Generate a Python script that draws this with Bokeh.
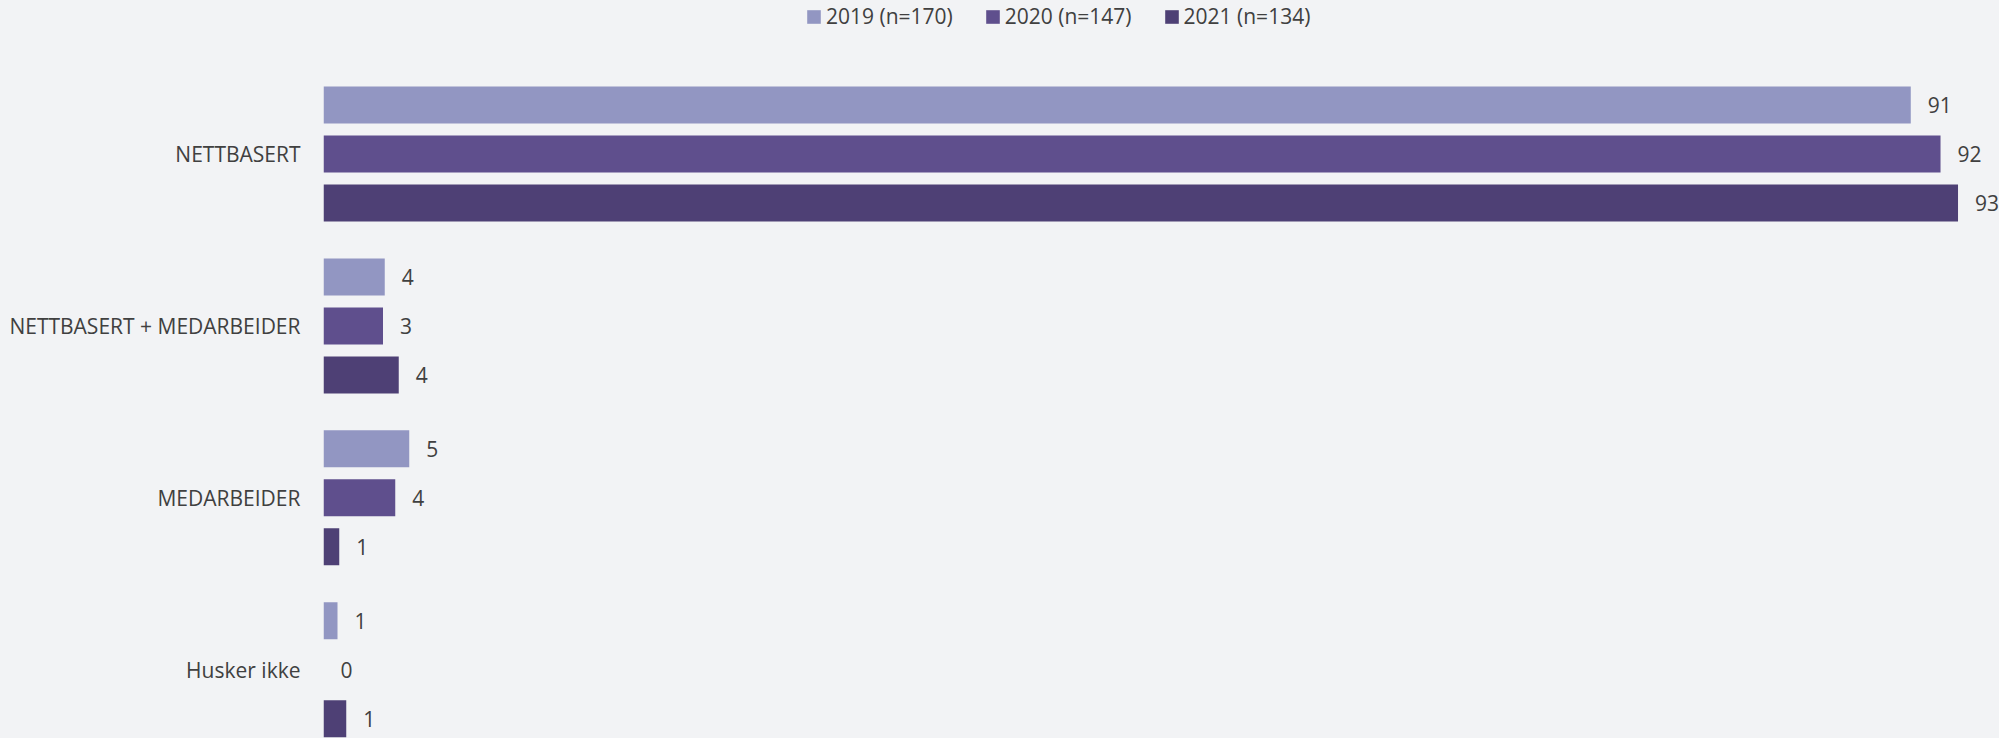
from bokeh.plotting import figure
from bokeh.models import Range1d, FixedTicker, Legend, LegendItem, ColumnDataSource
from bokeh.core.properties import value
from bokeh.embed import file_html
from bokeh.resources import INLINE

categories = ["NETTBASERT", "NETTBASERT + MEDARBEIDER", "MEDARBEIDER", "Husker ikke"]
series_names = ["2019 (n=170)", "2020 (n=147)", "2021 (n=134)"]
values_2019 = [90.7, 3.5, 4.9, 0.8]
values_2020 = [92.4, 3.4, 4.1, 0.0]
values_2021 = [93.4, 4.3, 0.9, 1.3]
colors = ["#9296C2", "#5F4F8D", "#4E4075"]

BG = "#F2F3F5"
TXT = "#404040"
FONT = "Open Sans"
FS = "21px"

W, H = 1999, 738
p = figure(width=W, height=H, output_backend="svg", toolbar_location=None,
           x_axis_location=None, y_axis_location="left",
           x_range=Range1d(0, 95.77), y_range=Range1d(3.400, -0.893),
           min_border_left=323, min_border_right=0, min_border_top=0, min_border_bottom=0)
p.background_fill_color = BG
p.border_fill_color = BG
p.outline_line_color = None
p.xgrid.visible = False
p.ygrid.visible = False

ax = p.yaxis[0]
ax.ticker = FixedTicker(ticks=list(range(len(categories))))
ax.major_label_overrides = {i: c for i, c in enumerate(categories)}
ax.axis_line_color = None
ax.major_tick_line_color = None
ax.minor_tick_line_color = None
ax.major_tick_out = 0
ax.major_tick_in = 0
ax.major_label_standoff = 23
ax.major_label_text_font = FONT
ax.major_label_text_font_size = FS
ax.major_label_text_color = TXT

all_vals = [values_2019, values_2020, values_2021]
offsets = [-0.285, 0.0, 0.285]
items = []
for vals, off, col, name in zip(all_vals, offsets, colors, series_names):
    ys = [i + off for i in range(len(categories))]
    src = ColumnDataSource(dict(y=ys, v=vals, lab=[str(int(round(v))) for v in vals]))
    r = p.hbar(y="y", left=0, right="v", height=0.2152, source=src,
               fill_color=col, line_color=None)
    p.text(x="v", y="y", text="lab", source=src, x_offset=17,
           text_baseline="middle", text_align="left",
           text_font=value(FONT), text_font_size=FS, text_color=TXT)
    items.append(LegendItem(label=name, renderers=[r]))

legend = Legend(items=items, orientation="horizontal", location=(482, 708),
                glyph_width=17, glyph_height=17, label_standoff=4, spacing=31,
                padding=0, margin=0, background_fill_alpha=0, border_line_color=None,
                label_text_font=FONT, label_text_font_size=FS, label_text_color=TXT)
p.add_layout(legend, "center")

html = file_html(p, INLINE)
html = html.replace("<head>", "<head><style>body{background:#F2F3F5;}</style>", 1)
open("out.html", "w").write(html)
